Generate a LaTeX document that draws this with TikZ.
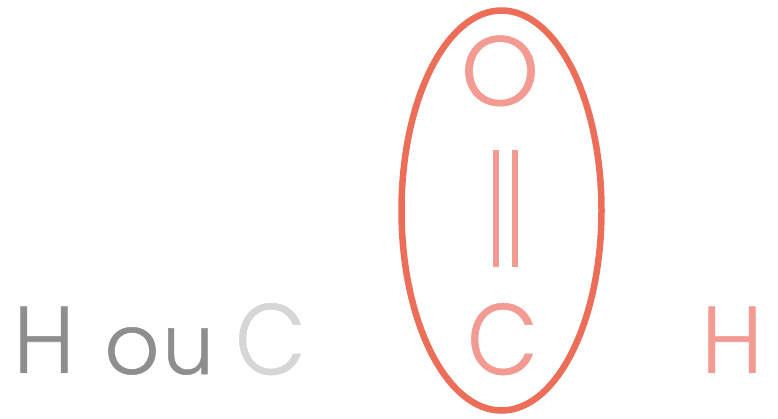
\documentclass[tikz,border=0pt]{standalone}
\usepackage{fontspec}
\usepackage{graphicx}
\usetikzlibrary{shapes.geometric}
\setmainfont{Poppins}[UprightFont=*-Light]
\newfontfamily\glyphfont{Poppins}[UprightFont=*-Light,FakeBold=0.6]
\definecolor{ringc}{HTML}{EC6E58}
\definecolor{pinkc}{HTML}{F39B93}
\definecolor{grayc}{HTML}{8E8E8E}
\definecolor{lightc}{HTML}{D6D6D6}
\tikzset{
  glyph/.style={inner sep=0pt,outer sep=0pt,anchor=base,font=\glyphfont\fontsize{97}{97}\selectfont},
  bondline/.style={draw=pinkc,line width=6pt},
  ring/.style={ellipse,draw=ringc,line width=6.5pt,inner sep=0pt,outer sep=0pt,minimum width=200pt,minimum height=400pt}
}
\begin{document}
\begin{tikzpicture}[x=1pt,y=-1pt]
\useasboundingbox (0,0) rectangle (778,418);
\node[glyph,text=grayc] (h1) at (44,372.5) {\scalebox{.93}[.97]{H}};
\node[glyph,text=grayc] (o1) at (132,374) {\scalebox{.89}[.87]{o}};
\node[glyph,text=grayc] (u1) at (188,374) {\scalebox{.84}[.86]{u}};
\node[glyph,text=lightc] (c1) at (270.5,374.5) {\scalebox{.95}[1.04]{C}};
\node[glyph,text=pinkc] (c2) at (502.5,374.5) {\scalebox{.95}[1.04]{C}};
\node[glyph,text=pinkc] (h2) at (732,372.5) {\scalebox{.93}[.97]{H}};
\node[glyph,text=pinkc] (o2) at (500,105.5) {\scalebox{1.03}[1.02]{O}};
\coordinate (a1) at (495.5,150); \coordinate (a2) at (495.5,267);
\coordinate (b1) at (515,150); \coordinate (b2) at (515,267);
\draw[bondline] (a1) -- (a2);
\draw[bondline] (b1) -- (b2);
\node[ring] (oval) at (501.5,210.5) {};
\end{tikzpicture}
\end{document}
